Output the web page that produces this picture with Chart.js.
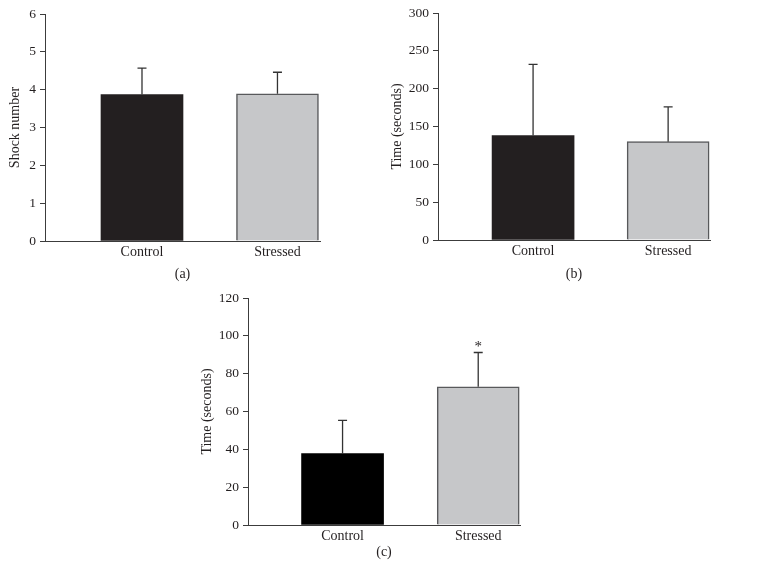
<!DOCTYPE html>
<html>
<head>
<meta charset="utf-8">
<script src="https://cdn.jsdelivr.net/npm/chart.js@4"></script>
<style>
  html, body { margin: 0; padding: 0; background: #fff; }
  body { width: 772px; height: 585px; position: relative; overflow: hidden; }
  .panel { position: absolute; }
</style>
</head>
<body>
<div class="panel" style="left:0px;top:0px;width:330px;height:290px;"><canvas id="ca"></canvas></div>
<div class="panel" style="left:380px;top:0px;width:340px;height:290px;"><canvas id="cb"></canvas></div>
<div class="panel" style="left:190px;top:285px;width:345px;height:300px;"><canvas id="cc"></canvas></div>
<script>
// ---- data ----
const categories = ['Control', 'Stressed'];

const shockNumber = [3.87, 3.89];
const shockNumberErr = [0.70, 0.57];

const timeB = [138, 130];
const timeBErr = [94, 46];

const timeC = [37.7, 73.1];
const timeCErr = [17.6, 18.1];
const sigC = ['', '*'];

const yTicksA = { min: 0, max: 6, step: 1 };
const yTicksB = { min: 0, max: 300, step: 50 };
const yTicksC = { min: 0, max: 120, step: 20 };

// ---- styling ----
const FONT = "'Liberation Serif', 'DejaVu Serif', serif";
const TEXT = '#231f20';
const AXIS = '#3c3c3c';

const errorBarPlugin = {
  id: 'errorBars',
  afterDatasetsDraw(chart, args, opts) {
    const { ctx, scales: { x, y } } = chart;
    const vals = chart.data.datasets[0].data;
    ctx.save();
    ctx.strokeStyle = '#333';
    ctx.lineWidth = 1.3;
    vals.forEach((pt, i) => {
      const e = opts.errors[i];
      const px = x.getPixelForValue(pt.x);
      const y0 = y.getPixelForValue(pt.y);
      const y1 = y.getPixelForValue(pt.y + e);
      ctx.beginPath();
      ctx.moveTo(px, y0);
      ctx.lineTo(px, y1);
      ctx.moveTo(px - 4.5, y1);
      ctx.lineTo(px + 4.5, y1);
      ctx.stroke();
      if (opts.marks && opts.marks[i]) {
        ctx.fillStyle = TEXT;
        ctx.font = '15px ' + FONT;
        ctx.textAlign = 'center';
        ctx.textBaseline = 'alphabetic';
        ctx.fillText(opts.marks[i], px, y1 - 1);
      }
    });
    ctx.restore();
  }
};

function makeChart(id, cfg) {
  const values = cfg.values;
  const data = categories.map((c, i) => ({ x: i, y: values[i] }));
  return new Chart(document.getElementById(id), {
    type: 'bar',
    data: {
      datasets: [{
        data: data,
        backgroundColor: [cfg.controlColor, '#c6c7c9'],
        borderColor: [cfg.controlColor, '#58595b'],
        borderWidth: [0, 1.5],
        barThickness: 82
      }]
    },
    plugins: [errorBarPlugin],
    options: {
      responsive: true,
      maintainAspectRatio: false,
      animation: false,
      layout: { padding: { left: 0, top: cfg.area.top, right: cfg.W - cfg.area.right, bottom: 0 } },
      plugins: {
        legend: { display: false },
        tooltip: { enabled: false },
        errorBars: { errors: cfg.errors, marks: cfg.marks || null }
      },
      scales: {
        x: {
          type: 'linear',
          offset: false,
          min: cfg.xmin,
          max: cfg.xmax,
          afterBuildTicks: (s) => { s.ticks = categories.map((c, i) => ({ value: i })); },
          afterFit: (s) => { s.height = cfg.H - cfg.area.bottom; },
          grid: { display: false, drawTicks: false },
          border: { display: true, color: AXIS, width: 1 },
          ticks: {
            callback: (v) => categories[v] !== undefined ? categories[v] : '',
            color: TEXT,
            font: { family: FONT, size: 14 },
            padding: cfg.xTickPad,
            maxRotation: 0,
            autoSkip: false
          },
          title: {
            display: true,
            text: cfg.label,
            color: TEXT,
            font: { family: FONT, size: 14 },
            padding: { top: 0, bottom: cfg.xTitlePad }
          }
        },
        y: {
          min: cfg.yt.min,
          max: cfg.yt.max,
          afterFit: (s) => { s.width = cfg.area.left; },
          grid: { display: true, drawOnChartArea: false, drawTicks: true, tickLength: 5, color: AXIS },
          border: { display: true, color: AXIS, width: 1 },
          ticks: {
            stepSize: cfg.yt.step,
            color: TEXT,
            font: { family: FONT, size: 13.5 },
            padding: 4
          },
          title: {
            display: true,
            text: cfg.ytitle,
            color: TEXT,
            font: { family: FONT, size: 14 },
            padding: { top: cfg.yTitlePad, bottom: 0 }
          }
        }
      }
    }
  });
}

makeChart('ca', {
  values: shockNumber, errors: shockNumberErr, controlColor: '#231f20',
  W: 330, H: 290, area: { left: 45, top: 14, right: 320, bottom: 241 },
  xmin: -0.716, xmax: 1.314, xTickPad: 3, xTitlePad: 7.5,
  yt: yTicksA, ytitle: 'Shock number', yTitlePad: 6.6, label: '(a)'
});

makeChart('cb', {
  values: timeB, errors: timeBErr, controlColor: '#231f20',
  W: 340, H: 290, area: { left: 58, top: 13, right: 330, bottom: 240 },
  xmin: -0.704, xmax: 1.31, xTickPad: 3, xTitlePad: 7.5,
  yt: yTicksB, ytitle: 'Time (seconds)', yTitlePad: 8.5, label: '(b)'
});

makeChart('cc', {
  values: timeC, errors: timeCErr, controlColor: '#000000', marks: sigC,
  W: 345, H: 300, area: { left: 58, top: 13, right: 330, bottom: 240 },
  xmin: -0.697, xmax: 1.308, xTickPad: 3, xTitlePad: 24.5,
  yt: yTicksC, ytitle: 'Time (seconds)', yTitlePad: 8.5, label: '(c)'
});
</script>
</body>
</html>
